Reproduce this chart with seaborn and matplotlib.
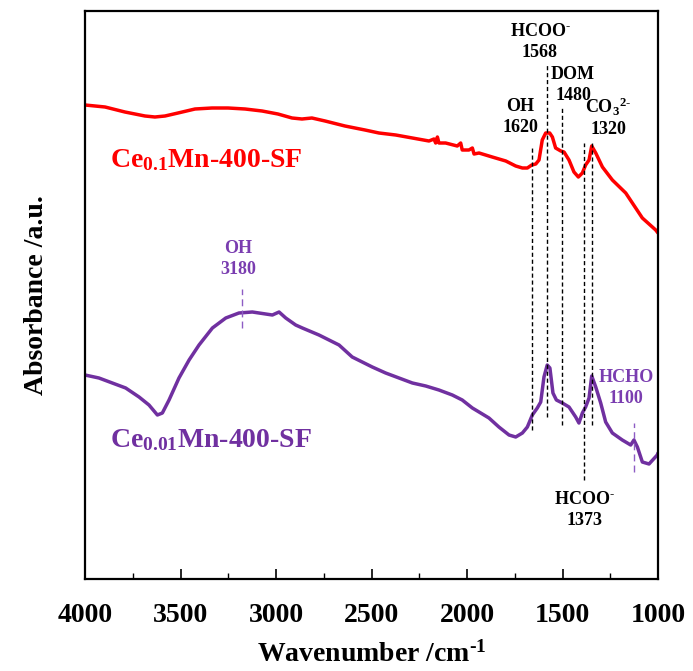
import numpy as np
import pandas as pd
import matplotlib
matplotlib.use("Agg")
import matplotlib.pyplot as plt
import seaborn as sns

# -- Data --------------------------------------------------------------------
wn_a = [4000, 3895, 3791, 3686, 3634, 3581, 3513, 3424, 3335, 3251, 3162, 3073,
        2990, 2916, 2864, 2812, 2743, 2639, 2534, 2461, 2373, 2286, 2199, 2173,
        2164, 2155, 2147, 2112, 2051, 2033, 2025, 1990, 1972, 1963, 1937, 1868,
        1797, 1745, 1710, 1684, 1661, 1640, 1623, 1606, 1588, 1567, 1553, 1536,
        1509, 1492, 1466, 1440, 1417, 1396, 1379, 1361, 1347, 1326, 1291, 1239,
        1169, 1082, 1012, 1000]
abs_a = [4.74, 4.72, 4.67, 4.63, 4.62, 4.63, 4.66, 4.70, 4.71, 4.71, 4.70, 4.68,
         4.65, 4.61, 4.60, 4.61, 4.58, 4.53, 4.49, 4.46, 4.44, 4.41, 4.38, 4.40,
         4.36, 4.42, 4.36, 4.36, 4.33, 4.36, 4.29, 4.29, 4.31, 4.25, 4.26, 4.22,
         4.18, 4.13, 4.11, 4.11, 4.14, 4.15, 4.19, 4.39, 4.46, 4.46, 4.42, 4.31,
         4.28, 4.27, 4.19, 4.07, 4.02, 4.06, 4.14, 4.19, 4.33, 4.26, 4.12, 3.99,
         3.86, 3.61, 3.49, 3.46]

wn_b = [4000, 3927, 3857, 3787, 3717, 3665, 3621, 3595, 3560, 3508, 3455, 3403,
        3333, 3263, 3194, 3124, 3054, 3019, 2984, 2949, 2897, 2862, 2775, 2670,
        2601, 2496, 2426, 2356, 2286, 2216, 2147, 2077, 2025, 1972, 1937, 1885,
        1833, 1780, 1745, 1710, 1684, 1658, 1632, 1614, 1597, 1580, 1566, 1550,
        1532, 1501, 1466, 1431, 1414, 1396, 1379, 1361, 1347, 1326, 1300, 1274,
        1239, 1187, 1143, 1126, 1108, 1082, 1047, 1004, 1000]
abs_b = [2.04, 2.01, 1.96, 1.91, 1.82, 1.74, 1.64, 1.66, 1.79, 2.01, 2.19, 2.34,
         2.51, 2.61, 2.66, 2.67, 2.65, 2.64, 2.67, 2.61, 2.54, 2.51, 2.44, 2.34,
         2.22, 2.12, 2.06, 2.01, 1.96, 1.93, 1.89, 1.84, 1.79, 1.71, 1.67, 1.61,
         1.52, 1.44, 1.42, 1.46, 1.52, 1.64, 1.71, 1.77, 2.02, 2.14, 2.11, 1.86,
         1.79, 1.76, 1.72, 1.62, 1.56, 1.66, 1.72, 1.81, 2.03, 1.92, 1.76, 1.57,
         1.46, 1.39, 1.34, 1.39, 1.32, 1.17, 1.15, 1.24, 1.26]

samples = ["Ce0.1Mn-400-SF", "Ce0.01Mn-400-SF"]

# dashed marker lines: (wavenumber, y from, y to)
black_lines = [(1660, 1.49, 4.32), (1581, 1.62, 5.16), (1502, 1.54, 4.73),
               (1387, 0.99, 4.36), (1346, 1.54, 4.36)]
purple_lines = [(3178, 2.51, 2.90), (1125, 1.07, 1.56)]

RED = "#FF0000"
PURPLE = "#7030A0"
HYPH = "\u2010"

df = pd.concat([
    pd.DataFrame({"wn": wn_a, "abs": abs_a, "sample": samples[0]}),
    pd.DataFrame({"wn": wn_b, "abs": abs_b, "sample": samples[1]}),
])

# -- Style --------------------------------------------------------------------
sns.set_theme(style="ticks")
plt.rcParams["font.family"] = ["Liberation Serif", "DejaVu Serif"]
plt.rcParams["font.weight"] = "bold"
plt.rcParams["text.color"] = "black"
plt.rcParams["axes.labelcolor"] = "black"
plt.rcParams["xtick.color"] = "black"
plt.rcParams["mathtext.fontset"] = "custom"
plt.rcParams["mathtext.rm"] = "Liberation Serif:bold"
plt.rcParams["mathtext.it"] = "Liberation Serif:bold"
plt.rcParams["mathtext.bf"] = "Liberation Serif:bold"

fig = plt.figure(figsize=(6.93, 6.71), dpi=100)
ax = fig.add_axes([85 / 693, 1 - 579 / 671, 573 / 693, 568 / 671])

sns.lineplot(data=df, x="wn", y="abs", hue="sample", palette=[RED, PURPLE],
             sort=False, estimator=None, linewidth=2.5, legend=False, ax=ax)

for x, y0, y1 in black_lines:
    ax.vlines(x, y0, y1, colors="black", linestyles=(0, (3, 2)), linewidth=1.0)
for x, y0, y1 in purple_lines:
    ax.vlines(x, y0, y1, colors="#8E5CC4", linestyles=(0, (5, 3)), linewidth=1.0)

# -- Annotations ---------------------------------------------------------------
kw = dict(ha="center", va="center", fontsize=13, fontweight="bold", linespacing=1.25)
ax.text(1618, 5.37, "HCOO$^{" + HYPH + "}$\n1568", color="black", **kw)
ax.text(1445, 4.94, "DOM\n1480", color="black", **kw)
ax.text(1722, 4.62, "OH\n1620", color="black", **kw)
ax.text(1262, 4.62, "CO$_3$$^{2" + HYPH + "}$\n1320", color="black", **kw)
ax.text(1387, 0.69, "HCOO$^{" + HYPH + "}$\n1373", color="black", **kw)
ax.text(1168, 1.91, "HCHO\n1100", color="#7A3DB0", **kw)
ax.text(3199, 3.20, "OH\n3180", color="#7A3DB0", **kw)

ax.text(3870, 4.19, "Ce$_{0.1}$Mn-400-SF", color=RED, fontsize=20,
        fontweight="bold", ha="left", va="center")
ax.text(3870, 1.39, "Ce$_{0.01}$Mn-400-SF", color=PURPLE, fontsize=20,
        fontweight="bold", ha="left", va="center")

# -- Axes ----------------------------------------------------------------------
ax.set_xlim(4000, 1000)
ax.set_ylim(0, 5.68)
ax.set_xticks(np.arange(4000, 999, -500))
ax.set_xticks(np.arange(3750, 1000, -500), minor=True)
ax.set_yticks([])
ax.tick_params(axis="x", which="major", direction="in", length=7, width=1.2,
               labelsize=20, pad=17, colors="black")
ax.tick_params(axis="x", which="minor", direction="in", length=4, width=1.0)
for lab in ax.get_xticklabels():
    lab.set_fontweight("bold")
for s in ax.spines.values():
    s.set_visible(True)
    s.set_linewidth(1.6)
    s.set_color("black")

ax.set_xlabel("Wavenumber /cm$^{" + HYPH + "1}$", fontsize=20, fontweight="bold",
              labelpad=10)
ax.set_ylabel("Absorbance /a.u.", fontsize=20, fontweight="bold", labelpad=26)

fig.savefig("out.png", dpi=100)
plt.close(fig)
